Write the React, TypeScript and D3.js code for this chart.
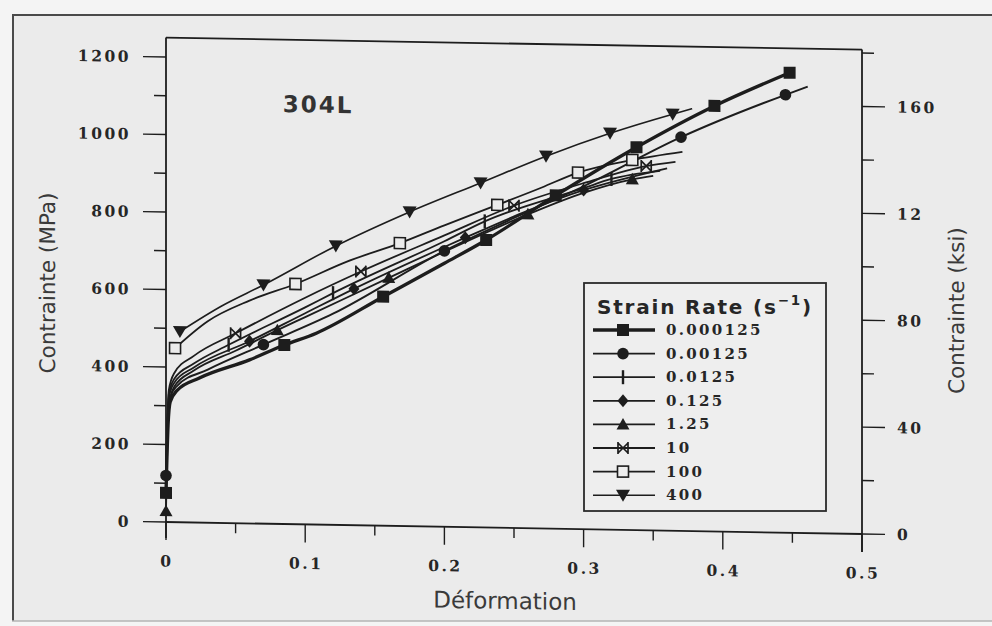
import React from "react";
import * as d3 from "d3";

const W = 992;
const H = 626;

// Axis ticks
const strainTicks = [0, 0.1, 0.2, 0.3, 0.4, 0.5];
const strainTickLabels = ["0", "0.1", "0.2", "0.3", "0.4", "0.5"];
const strainMinorTicks = [0.05, 0.15, 0.25, 0.35, 0.45];
const mpaTicks = [0, 200, 400, 600, 800, 1000, 1200];
const mpaMinorTicks = [100, 300, 500, 700, 900, 1100];
const ksiTicks = [0, 40, 80, 120, 160];
const ksiTickLabels = ["0", "40", "80", "12", "160"];
const ksiMinorTicks = [20, 60, 100, 140, 180];

// Strain rates (s^-1) and their marker shapes
const rateLabels = ["0.000125", "0.00125", "0.0125", "0.125", "1.25", "10", "100", "400"];
const rateMarkers = ["square", "circle", "tick", "diamond", "triUp", "bowtie", "openSquare", "triDown"];
const rateWidths = [3.3, 1.9, 1.8, 1.8, 1.8, 1.8, 1.8, 1.6];

// [strain, true stress (MPa), marker drawn (1) or not (0)]
const rate000125 = [
  [0, 75, 1], [0.0015, 250, 0], [0.003, 310, 0], [0.008, 340, 0], [0.024, 373, 0],
  [0.06, 422, 0], [0.085, 462, 1], [0.108, 494, 0], [0.156, 591, 1], [0.2, 680, 0],
  [0.23, 742, 1], [0.28, 860, 1], [0.338, 988, 1], [0.394, 1098, 1], [0.448, 1187, 1],
];
const rate00125 = [
  [0, 120, 1], [0.0015, 260, 0], [0.003, 322, 0], [0.008, 352, 0], [0.03, 395, 0],
  [0.07, 462, 1], [0.12, 545, 0], [0.2, 712, 1], [0.25, 800, 0], [0.3, 885, 0],
  [0.37, 1016, 1], [0.445, 1130, 1], [0.461, 1152, 0],
];
const rate0125 = [
  [0, 110, 0], [0.002, 330, 0], [0.006, 370, 0], [0.02, 410, 0], [0.045, 460, 1],
  [0.1, 560, 0], [0.12, 598, 1], [0.2, 737, 0], [0.229, 790, 1], [0.3, 880, 0],
  [0.32, 905, 1], [0.355, 928, 0],
];
const rate125 = [
  [0, 100, 0], [0.002, 320, 0], [0.006, 360, 0], [0.02, 400, 0], [0.06, 470, 1],
  [0.1, 545, 0], [0.135, 610, 1], [0.2, 722, 0], [0.215, 747, 1], [0.3, 875, 1],
  [0.36, 935, 0],
];
const rate1_25 = [
  [0, 28, 1], [0.002, 300, 0], [0.006, 350, 0], [0.02, 392, 0], [0.05, 445, 0],
  [0.08, 500, 1], [0.1, 535, 0], [0.16, 640, 1], [0.2, 710, 0], [0.26, 810, 1],
  [0.3, 868, 0], [0.335, 905, 1], [0.35, 915, 0],
];
const rate10 = [
  [0, 120, 0], [0.002, 340, 0], [0.006, 385, 0], [0.02, 430, 0], [0.05, 490, 1],
  [0.1, 585, 0], [0.14, 655, 1], [0.2, 752, 0], [0.25, 832, 1], [0.3, 893, 0],
  [0.345, 940, 1], [0.366, 952, 0],
];
const rate100 = [
  [0.0065, 449, 1], [0.03, 520, 0], [0.06, 575, 0], [0.093, 620, 1], [0.13, 680, 0],
  [0.168, 730, 1], [0.2, 778, 0], [0.238, 833, 1], [0.27, 880, 0], [0.296, 920, 1],
  [0.335, 955, 1], [0.371, 978, 0],
];
const rate400 = [
  [0.01, 492, 1], [0.04, 560, 0], [0.07, 616, 1], [0.122, 720, 1], [0.175, 811, 1],
  [0.226, 889, 1], [0.273, 961, 1], [0.319, 1023, 1], [0.364, 1075, 1], [0.378, 1090, 0],
];

const rateSeries = [rate000125, rate00125, rate0125, rate125, rate1_25, rate10, rate100, rate400];

const INK = "#1d1d1d";
const TEXT = "#262626";
const PAPER = "#ebebeb";

const MPA_PER_KSI = 6.894757;
const Y_MAX = 1250;

const x = d3.scaleLinear().domain([0, 0.5]).range([166, 862]);
const y = d3.scaleLinear().domain([0, Y_MAX]).range([522, 37.6]);
const yKsi = d3.scaleLinear().domain([0, Y_MAX / MPA_PER_KSI]).range([522, 37.6]);

// slight shear of the scanned frame: right side sits ~12px lower
const shearDeg = (Math.atan(12 / 696) * 180) / Math.PI;

function Mark({ kind, cx, cy, bg }: { kind: string; cx: number; cy: number; bg: string }) {
  switch (kind) {
    case "square":
      return <rect x={cx - 6} y={cy - 6} width={12} height={12} fill={INK} />;
    case "circle":
      return <circle cx={cx} cy={cy} r={5.8} fill={INK} />;
    case "tick":
      return (
        <g stroke={INK} strokeWidth={2.4}>
          <line x1={cx} y1={cy - 7} x2={cx} y2={cy + 7} />
        </g>
      );
    case "diamond":
      return <path d={`M${cx},${cy - 6.5}L${cx + 5.5},${cy}L${cx},${cy + 6.5}L${cx - 5.5},${cy}Z`} fill={INK} />;
    case "triUp":
      return <path d={`M${cx},${cy - 6.5}L${cx + 6.5},${cy + 5}L${cx - 6.5},${cy + 5}Z`} fill={INK} />;
    case "bowtie":
      return (
        <path
          d={`M${cx - 5},${cy - 5}L${cx + 5},${cy + 5}M${cx - 5},${cy + 5}L${cx + 5},${cy - 5}M${cx - 5},${cy - 6}L${cx - 5},${cy + 6}M${cx + 5},${cy - 6}L${cx + 5},${cy + 6}`}
          stroke={INK}
          strokeWidth={1.7}
          fill="none"
        />
      );
    case "openSquare":
      return <rect x={cx - 5.5} y={cy - 5.5} width={11} height={11} fill={bg} stroke={INK} strokeWidth={1.6} />;
    case "triDown":
      return <path d={`M${cx - 7},${cy - 5.5}L${cx + 7},${cy - 5.5}L${cx},${cy + 6.5}Z`} fill={INK} />;
    default:
      return null;
  }
}

const serif = {
  fontFamily: "'DejaVu Serif', serif",
  fontWeight: 700,
  fontSize: 15.5,
  letterSpacing: 2.5,
  fill: TEXT,
} as const;

const sans = {
  fontFamily: "'DejaVu Sans', sans-serif",
  fill: "#3a3a3a",
} as const;

export default function App() {
  const line = d3
    .line<number[]>()
    .x((d) => x(d[0]))
    .y((d) => y(d[1]))
    .curve(d3.curveMonotoneX);

  const shear = `translate(166,0) skewY(${shearDeg}) translate(-166,0)`;

  // Legend layout
  const lgX = 584;
  const lgY = 283;
  const lgW = 242;
  const lgH = 228;
  const rowY0 = 330;
  const rowStep = 23.6;

  return (
    <svg
      width={W}
      height={H}
      viewBox={`0 0 ${W} ${H}`}
      style={{ position: "absolute", left: 0, top: 0, background: "#f4f4f4" }}
    >
      {/* figure frame */}
      <rect x={12} y={15} width={W} height={606} fill={PAPER} />
      <line x1={12} y1={15} x2={W} y2={15} stroke="#4a4a4a" strokeWidth={2} />
      <line x1={13} y1={15} x2={13} y2={621} stroke="#4a4a4a" strokeWidth={2} />
      <line x1={12} y1={621} x2={W} y2={621} stroke="#b5b5b5" strokeWidth={1.5} />

      <g transform={shear}>
        {/* axes frame */}
        <g stroke={INK} strokeWidth={1.8} fill="none">
          <line x1={x(0)} y1={y(Y_MAX)} x2={x(0)} y2={y(0) + 16} />
          <line x1={x(0.5)} y1={y(Y_MAX)} x2={x(0.5)} y2={y(0) + 18} />
          <line x1={x(0)} y1={y(Y_MAX)} x2={x(0.5)} y2={y(Y_MAX)} />
          <line x1={x(0)} y1={y(0)} x2={x(0.5)} y2={y(0)} />
        </g>

        {/* left axis (MPa) */}
        <g stroke={INK} strokeWidth={1.4}>
          {mpaTicks.map((t) => (
            <line key={`lm${t}`} x1={x(0) - 23} y1={y(t)} x2={x(0)} y2={y(t)} />
          ))}
          {mpaMinorTicks.map((t) => (
            <line key={`ln${t}`} x1={x(0) - 12} y1={y(t)} x2={x(0)} y2={y(t)} />
          ))}
        </g>
        {mpaTicks.map((t) => (
          <text key={`ll${t}`} x={131} y={y(t)} textAnchor="end" dominantBaseline="central" style={serif}>
            {String(t)}
          </text>
        ))}

        {/* right axis (ksi) */}
        <g stroke={INK} strokeWidth={1.4}>
          {ksiTicks.map((t) => (
            <line key={`rm${t}`} x1={x(0.5)} y1={yKsi(t)} x2={x(0.5) + 23} y2={yKsi(t)} />
          ))}
          {ksiMinorTicks.map((t) => (
            <line key={`rn${t}`} x1={x(0.5)} y1={yKsi(t)} x2={x(0.5) + 12} y2={yKsi(t)} />
          ))}
        </g>
        {ksiTicks.map((t, i) => (
          <text key={`rl${t}`} x={897} y={yKsi(t)} textAnchor="start" dominantBaseline="central" style={serif}>
            {ksiTickLabels[i]}
          </text>
        ))}

        {/* bottom axis (strain) */}
        <g stroke={INK} strokeWidth={1.4}>
          {strainTicks.map((t) => (
            <line key={`bm${t}`} x1={x(t)} y1={y(0)} x2={x(t)} y2={y(0) + 18} />
          ))}
          {strainMinorTicks.map((t) => (
            <line key={`bn${t}`} x1={x(t)} y1={y(0)} x2={x(t)} y2={y(0) + 10} />
          ))}
        </g>
        {strainTicks.map((t, i) => (
          <text key={`bl${t}`} x={x(t) + 1} y={561} textAnchor="middle" dominantBaseline="central" style={serif}>
            {strainTickLabels[i]}
          </text>
        ))}

        {/* axis titles */}
        <text
          transform="translate(48,285) rotate(-90)"
          textAnchor="middle"
          dominantBaseline="central"
          style={{ ...sans, fontSize: 21.5 }}
        >
          Contrainte (MPa)
        </text>
        <text
          transform="translate(957,297) rotate(-90)"
          textAnchor="middle"
          dominantBaseline="central"
          style={{ ...sans, fontSize: 21.5 }}
        >
          Contrainte (ksi)
        </text>
        <text x={505} y={595} textAnchor="middle" dominantBaseline="central" style={{ ...sans, fontSize: 23 }}>
          Déformation
        </text>

        <text
          x={318}
          y={102}
          textAnchor="middle"
          dominantBaseline="central"
          style={{ ...sans, fontWeight: 700, fontSize: 23, letterSpacing: 2, fill: "#333" }}
        >
          304L
        </text>

        {/* stress-strain curves */}
        {rateSeries.map((s, i) => (
          <path
            key={`c${i}`}
            d={line(s) || ""}
            fill="none"
            stroke={INK}
            strokeWidth={rateWidths[i]}
            strokeLinejoin="round"
          />
        ))}
        {rateSeries.map((s, i) =>
          s
            .filter((d) => d[2] === 1)
            .map((d, j) => (
              <Mark key={`m${i}-${j}`} kind={rateMarkers[i]} cx={x(d[0])} cy={y(d[1])} bg={PAPER} />
            ))
        )}
      </g>

      {/* legend */}
      <rect x={lgX} y={lgY} width={lgW} height={lgH} fill="#eeeeee" stroke="#2a2a2a" strokeWidth={1.8} />
      <text
        x={597}
        y={307}
        dominantBaseline="central"
        style={{ ...sans, fontWeight: 700, fontSize: 20, letterSpacing: 1.8, fill: "#262626" }}
      >
        Strain Rate (s
        <tspan fontSize={13.5} dy={-7}>
          −1
        </tspan>
        <tspan dy={7}>)</tspan>
      </text>
      {rateLabels.map((lab, i) => {
        const ry = rowY0 + i * rowStep;
        return (
          <g key={`lg${i}`}>
            <line x1={593} y1={ry} x2={655} y2={ry} stroke={INK} strokeWidth={rateWidths[i]} />
            <Mark kind={rateMarkers[i]} cx={623} cy={ry} bg="#eeeeee" />
            <text x={666} y={ry} dominantBaseline="central" style={{ ...serif, fontSize: 15, letterSpacing: 2.3 }}>
              {lab}
            </text>
          </g>
        );
      })}
    </svg>
  );
}
